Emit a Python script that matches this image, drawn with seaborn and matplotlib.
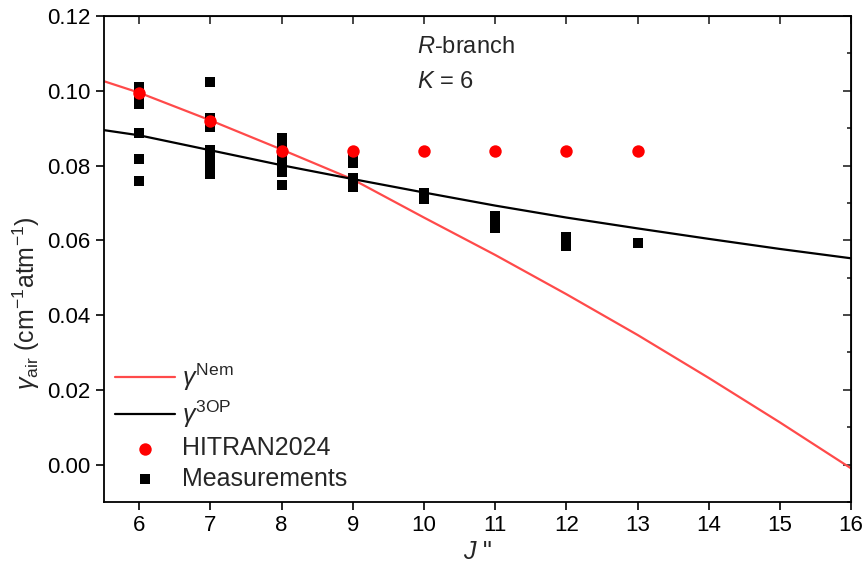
import numpy as np
import pandas as pd
import matplotlib.pyplot as plt
import matplotlib.ticker as tck
import seaborn as sns

# model curves
J_line = [5.5, 6, 7, 8, 9, 10, 11, 12, 13, 14, 15, 16]
gamma_nem = [0.1026, 0.0995, 0.0921, 0.0843, 0.0763, 0.0661, 0.0561, 0.0456, 0.0347, 0.0232, 0.0113, -0.0010]
gamma_3op = [0.0895, 0.0881, 0.0841, 0.0801, 0.0764, 0.0728, 0.0693, 0.0661, 0.0632, 0.0604, 0.0577, 0.0552]

# HITRAN2024 values
J_hitran = [6, 7, 8, 9, 10, 11, 12, 13]
gamma_hitran = [0.0994, 0.0919, 0.0840, 0.0840, 0.0840, 0.0840, 0.0840, 0.0840]

# measurements
J_meas = [6, 6, 6, 6, 6, 6, 6,
          7, 7, 7, 7, 7, 7, 7, 7, 7,
          8, 8, 8, 8, 8, 8, 8, 8,
          9, 9, 9, 9, 9,
          10, 10,
          11, 11, 11,
          12, 12, 12,
          13]
gamma_meas = [0.1010, 0.0995, 0.0980, 0.0965, 0.0886, 0.0817, 0.0759,
              0.1024, 0.0928, 0.0915, 0.0902, 0.0842, 0.0826, 0.0810, 0.0794, 0.0778,
              0.0873, 0.0858, 0.0843, 0.0828, 0.0812, 0.0797, 0.0782, 0.0748,
              0.0820, 0.0807, 0.0768, 0.0755, 0.0742,
              0.0726, 0.0711,
              0.0664, 0.0649, 0.0633,
              0.0610, 0.0598, 0.0586,
              0.0592]

sns.set_style('ticks')
plt.rcParams['font.family'] = ['Liberation Sans', 'DejaVu Sans']
plt.rcParams['mathtext.fontset'] = 'custom'
plt.rcParams['mathtext.rm'] = 'Liberation Sans'
plt.rcParams['mathtext.it'] = 'Liberation Sans:italic'
plt.rcParams['mathtext.bf'] = 'Liberation Sans:bold'

fig = plt.figure(figsize=(8.64, 5.75), dpi=100)
ax = fig.add_axes([0.120, 0.127, 0.865, 0.845])

sns.lineplot(x=J_line, y=gamma_nem, color='#ff4a4a', lw=1.6, ax=ax, label=r'$\gamma^{\rm Nem}$')
sns.lineplot(x=J_line, y=gamma_3op, color='black', lw=1.6, ax=ax, label=r'$\gamma^{\rm 3OP}$')
sns.scatterplot(x=J_meas, y=gamma_meas, marker='s', s=52, color='black', linewidth=0,
                ax=ax, label='Measurements', zorder=3)
sns.scatterplot(x=J_hitran, y=gamma_hitran, marker='o', s=80, color='#ff0000', linewidth=0,
                ax=ax, label='HITRAN2024', zorder=4)

ax.set_xlim(5.5, 16)
ax.set_ylim(-0.01, 0.12)
ax.set_xticks(range(6, 17))
ax.set_yticks(np.arange(0, 0.121, 0.02))
ax.yaxis.set_major_formatter(tck.FormatStrFormatter('%.2f'))
ax.tick_params(axis='both', which='major', direction='out', length=6, width=1.2,
               labelsize=16, colors='black')
for sp in ax.spines.values():
    sp.set_linewidth(1.3)
    sp.set_color('black')

top = ax.secondary_xaxis('top')
top.set_xticks(range(6, 17))
top.tick_params(direction='in', length=6, width=1.2, labeltop=False)
right = ax.secondary_yaxis('right')
right.yaxis.set_major_locator(tck.MultipleLocator(0.02))
right.yaxis.set_minor_locator(tck.MultipleLocator(0.01))
right.tick_params(which='major', direction='in', length=6, width=1.2, labelright=False)
right.tick_params(which='minor', direction='in', length=3, width=1.2)

ax.set_xlabel(r'$J$ "', fontsize=18, labelpad=3)
ax.set_ylabel(r'$\gamma_{\rm air}$ (cm$^{-1}$atm$^{-1}$)', fontsize=18)
ax.yaxis.set_label_coords(-0.083, 0.41)

ax.text(9.9, 0.1117, r'$R$-branch', fontsize=17, va='center', ha='left')
ax.text(9.9, 0.1025, r'$K$ = 6', fontsize=17, va='center', ha='left')

h, l = ax.get_legend_handles_labels()
order = [l.index(r'$\gamma^{\rm Nem}$'), l.index(r'$\gamma^{\rm 3OP}$'),
         l.index('HITRAN2024'), l.index('Measurements')]
ax.legend([h[i] for i in order], [l[i] for i in order], loc='lower left',
          frameon=False, fontsize=18, handlelength=2.4, handletextpad=0.3,
          labelspacing=0.25, borderaxespad=0.05)

plt.savefig('out.png', dpi=100)
